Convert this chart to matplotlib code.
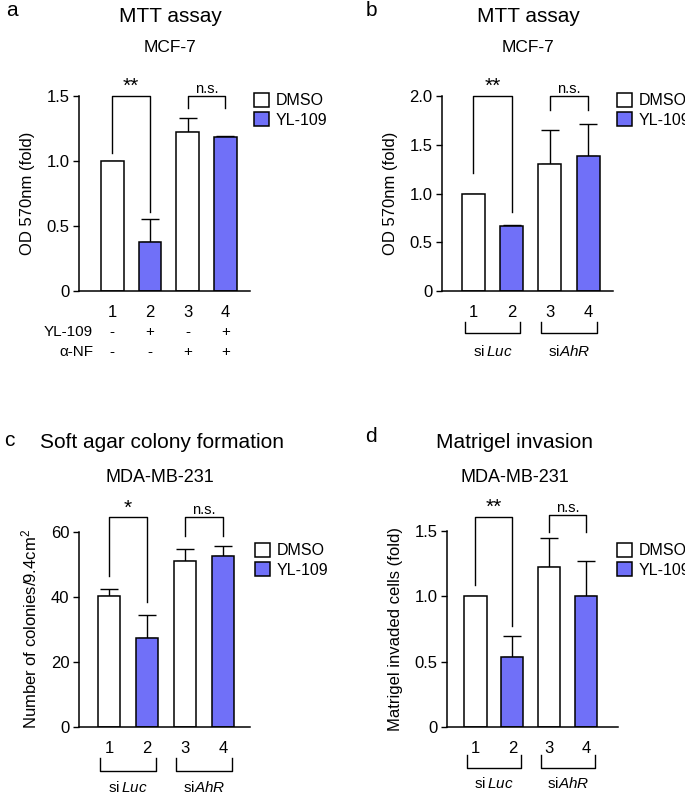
import numpy as np
import matplotlib
matplotlib.use("Agg")
import matplotlib.pyplot as plt
from matplotlib.patches import Patch

plt.rcParams['font.family'] = ['Liberation Sans', 'DejaVu Sans']
plt.rcParams['mathtext.fontset'] = 'custom'
plt.rcParams['mathtext.rm'] = 'Liberation Sans'
plt.rcParams['mathtext.it'] = 'Liberation Sans:italic'

# data
lanes = ['1', '2', '3', '4']
treatments = ['DMSO', 'YL-109']
a_mean = [1.0, 0.377, 1.225, 1.187]
a_err = [np.nan, 0.18, 0.105, 0.008]
b_mean = [1.0, 0.668, 1.30, 1.38]
b_err = [np.nan, 0.012, 0.35, 0.33]
c_mean = [40.3, 27.5, 51.1, 52.5]
c_err = [2.1, 7.1, 3.6, 3.2]
d_mean = [1.0, 0.537, 1.227, 1.0]
d_err = [np.nan, 0.163, 0.22, 0.27]
yl109_signs = ['-', '+', '-', '+']
anf_signs = ['-', '-', '+', '+']
groups = ['si$\\,\\mathit{Luc}$', 'si$\\mathit{AhR}$']

BLUE = '#7070f8'
colors = ['white', BLUE, 'white', BLUE]
W, H = 685, 792
fig = plt.figure(figsize=(W / 100, H / 100), dpi=100)


def add_axes(left, right, bottom, top):
    return fig.add_axes([left / W, 1 - bottom / H, (right - left) / W, (bottom - top) / H])


def ftext(x, y, s, **kw):
    fig.text(x / W, 1 - y / H, s, ha=kw.pop('ha', 'center'), va=kw.pop('va', 'center'), **kw)


def draw_bars(ax, mean, err, yticks, yticklabels, ylabel, xlim):
    x = np.arange(1, len(lanes) + 1)
    ax.bar(x, mean, width=0.6, color=colors, edgecolor='black', linewidth=1.1, zorder=2)
    ax.errorbar(x, mean, yerr=[np.zeros(len(err)), err], fmt='none', ecolor='black',
                elinewidth=1, capsize=6.5, capthick=1, zorder=1)
    ax.set_xlim(*xlim)
    ax.set_ylim(yticks[0], yticks[-1])
    ax.set_yticks(yticks)
    ax.set_yticklabels(yticklabels)
    ax.set_xticks(x)
    ax.set_xticklabels(lanes)
    ax.tick_params(axis='x', length=0, pad=10, labelsize=12)
    ax.tick_params(axis='y', length=4, width=1, direction='out', labelsize=12, pad=3)
    for s in ['top', 'right']:
        ax.spines[s].set_visible(False)
    for s in ['left', 'bottom']:
        ax.spines[s].set_linewidth(1.1)
    ax.set_ylabel(ylabel, fontsize=12, labelpad=8)


def sig(ax, x1, x2, y1, y2, top, label, size):
    ax.plot([x1, x1, x2, x2], [y1, top, top, y2], color='black', lw=1, clip_on=False)
    ax.text((x1 + x2) / 2, top, label, ha='center', va='bottom', fontsize=size,
            clip_on=False)


def group_brackets(ax, y_top, y_bot, y_text):
    tr = ax.get_xaxis_transform()
    for i, g in enumerate(groups):
        xa, xb = 2 * i + 0.77, 2 * i + 2.23
        ax.plot([xa, xa, xb, xb], [y_top, y_bot, y_bot, y_top], color='black', lw=1,
                transform=tr, clip_on=False)
        ax.text(2 * i + 1.5, y_text, g, ha='center', va='center', fontsize=11, transform=tr)


def legend(x, y):
    handles = [Patch(facecolor='white', edgecolor='black', linewidth=1.1),
               Patch(facecolor=BLUE, edgecolor='black', linewidth=1.1)]
    fig.legend(handles, treatments, loc='upper left', bbox_to_anchor=(x / W, 1 - y / H),
               frameon=False, fontsize=11.5, handlelength=0.95, handleheight=0.95,
               handletextpad=0.4, labelspacing=0.25, borderpad=0, borderaxespad=0)


# panel a
ax = add_axes(79, 250, 291, 96)
draw_bars(ax, a_mean, a_err, [0, 0.5, 1.0, 1.5], ['0', '0.5', '1.0', '1.5'],
          'OD 570nm (fold)', (0.12, 4.65))
sig(ax, 1, 2, 1.06, 0.61, 1.5, '**', 15)
sig(ax, 3, 4, 1.41, 1.41, 1.5, 'n.s.', 10.5)
tr = ax.get_xaxis_transform()
for i in range(4):
    ax.text(i + 1, -0.21, yl109_signs[i], ha='center', va='center', fontsize=11, transform=tr)
    ax.text(i + 1, -0.313, anf_signs[i], ha='center', va='center', fontsize=11, transform=tr)
ftext(93, 332, 'YL-109', ha='right', fontsize=11)
ftext(93, 352, 'α-NF', ha='right', fontsize=11)
legend(254, 93)
ftext(12, 11, 'a', fontsize=15)
ftext(170, 16, 'MTT assay', fontsize=15)
ftext(170, 48, 'MCF-7', fontsize=12.5)

# panel b
ax = add_axes(442, 613, 291, 96)
draw_bars(ax, b_mean, b_err, [0, 0.5, 1.0, 1.5, 2.0], ['0', '0.5', '1.0', '1.5', '2.0'],
          'OD 570nm (fold)', (0.18, 4.65))
sig(ax, 1, 2, 1.21, 0.81, 2.0, '**', 15)
sig(ax, 3, 4, 1.86, 1.86, 2.0, 'n.s.', 10.5)
group_brackets(ax, -0.159, -0.215, -0.31)
legend(617, 93)
ftext(371, 10, 'b', fontsize=15)
ftext(528, 16, 'MTT assay', fontsize=15)
ftext(528, 48, 'MCF-7', fontsize=12.5)

# panel c
ax = add_axes(79, 250, 727, 532)
draw_bars(ax, c_mean, c_err, [0, 20, 40, 60], ['0', '20', '40', '60'],
          'Number of colonies/9.4cm$^2$', (0.21, 4.71))
sig(ax, 1, 2, 46.5, 38.5, 64.5, '*', 15)
sig(ax, 3, 4, 58.8, 58.8, 64.5, 'n.s.', 10.5)
group_brackets(ax, -0.159, -0.226, -0.31)
legend(255, 543)
ftext(9, 440, 'c', fontsize=15)
ftext(162, 442, 'Soft agar colony formation', fontsize=15)
ftext(160, 477, 'MDA-MB-231', fontsize=13)

# panel d
ax = add_axes(447, 618, 727, 531)
draw_bars(ax, d_mean, d_err, [0, 0.5, 1.0, 1.5], ['0', '0.5', '1.0', '1.5'],
          'Matrigel invaded cells (fold)', (0.23, 4.86))
sig(ax, 1, 2, 1.09, 0.77, 1.61, '**', 15)
sig(ax, 3, 4, 1.49, 1.49, 1.62, 'n.s.', 10.5)
group_brackets(ax, -0.143, -0.21, -0.29)
legend(617, 543)
ftext(371, 437, 'd', fontsize=15)
ftext(515, 442, 'Matrigel invasion', fontsize=15)
ftext(515, 477, 'MDA-MB-231', fontsize=13)

fig.savefig('out.png', dpi=100)
